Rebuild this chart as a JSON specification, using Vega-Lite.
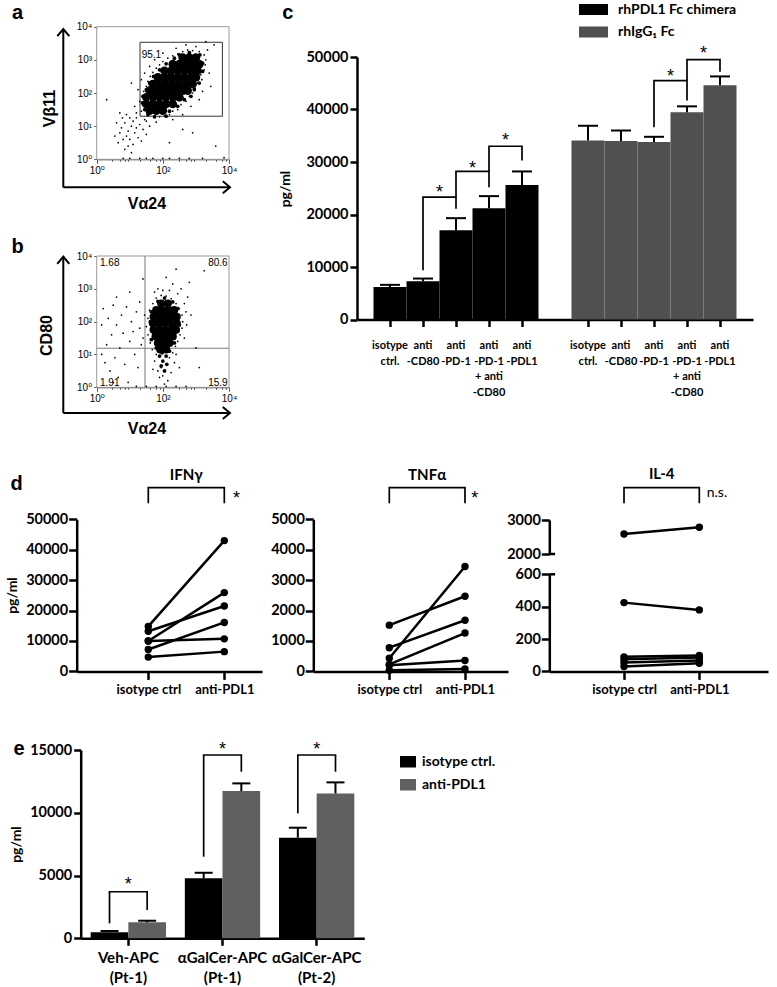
{
"$schema": "https://vega.github.io/schema/vega-lite/v6.json",
"width": 777, "height": 987,
"autosize": {"type": "none"},
"padding": 0,
"background": "white",
"config": {
  "view": {"stroke": null},
  "font": "Lato",
  "axis": {"grid": false, "domainColor": "black", "tickColor": "black", "domainWidth": 2.5, "tickWidth": 2.5, "tickSize": 7,
    "labelFont": "Lato", "labelFontWeight": "bold", "labelColor": "black", "labelFontSize": 14.5, "labelPadding": 2,
    "titleFont": "Lato", "titleFontWeight": "bold", "titleColor": "black", "titleFontSize": 15,
    "labelFlush": false, "labelOverlap": false},
  "legend": {"padding": 0, "labelFont": "Lato", "labelFontWeight": "bold", "labelColor": "black"}
},
"datasets": {
  "a_frame": [{"x1":0,"x2":4,"y1":0,"y2":4}],
  "a_gate": [{"x1":1.31,"x2":3.8,"y1":1.3,"y2":3.53}],
  "a_core": [
    {"lx":1.6,"ly":1.47},{"lx":1.8,"ly":1.47},{"lx":2.0,"ly":1.47},
    {"lx":1.5,"ly":1.67},{"lx":1.7,"ly":1.67},{"lx":1.9,"ly":1.67},{"lx":2.1,"ly":1.67},{"lx":2.3,"ly":1.67},
    {"lx":1.5,"ly":1.87},{"lx":1.7,"ly":1.87},{"lx":1.9,"ly":1.87},{"lx":2.1,"ly":1.87},{"lx":2.3,"ly":1.87},{"lx":2.5,"ly":1.87},
    {"lx":1.6,"ly":2.07},{"lx":1.8,"ly":2.07},{"lx":2.0,"ly":2.07},{"lx":2.2,"ly":2.07},{"lx":2.4,"ly":2.07},{"lx":2.6,"ly":2.07},{"lx":2.75,"ly":2.07},
    {"lx":1.7,"ly":2.27},{"lx":1.9,"ly":2.27},{"lx":2.1,"ly":2.27},{"lx":2.3,"ly":2.27},{"lx":2.5,"ly":2.27},{"lx":2.7,"ly":2.27},{"lx":2.9,"ly":2.27},
    {"lx":1.85,"ly":2.47},{"lx":2.05,"ly":2.47},{"lx":2.25,"ly":2.47},{"lx":2.45,"ly":2.47},{"lx":2.65,"ly":2.47},{"lx":2.85,"ly":2.47},{"lx":3.0,"ly":2.47},
    {"lx":2.05,"ly":2.67},{"lx":2.25,"ly":2.67},{"lx":2.45,"ly":2.67},{"lx":2.65,"ly":2.67},{"lx":2.85,"ly":2.67},{"lx":3.05,"ly":2.67},
    {"lx":2.3,"ly":2.87},{"lx":2.5,"ly":2.87},{"lx":2.7,"ly":2.87},{"lx":2.9,"ly":2.87},{"lx":3.1,"ly":2.87},
    {"lx":2.6,"ly":3.07},{"lx":2.8,"ly":3.07},{"lx":3.0,"ly":3.07}
  ],
  "a_mid": [
    {"lx":1.45,"ly":1.5},{"lx":1.38,"ly":1.7},{"lx":1.4,"ly":1.9},{"lx":1.5,"ly":2.1},{"lx":1.6,"ly":2.3},{"lx":1.72,"ly":2.5},
    {"lx":1.9,"ly":2.7},{"lx":2.1,"ly":2.88},{"lx":2.35,"ly":3.05},{"lx":2.5,"ly":3.15},{"lx":2.8,"ly":3.22},{"lx":3.12,"ly":3.15},
    {"lx":3.2,"ly":2.9},{"lx":3.2,"ly":2.65},{"lx":3.1,"ly":2.3},{"lx":2.95,"ly":2.1},{"lx":2.85,"ly":1.9},{"lx":2.65,"ly":1.8},
    {"lx":2.45,"ly":1.6},{"lx":2.2,"ly":1.45},{"lx":2.1,"ly":1.3},{"lx":1.75,"ly":1.28},{"lx":1.55,"ly":1.35}
  ],
  "a_dots": [
    {"lx":1.35,"ly":1.45},{"lx":1.4,"ly":1.62},{"lx":1.3,"ly":1.75},{"lx":1.38,"ly":1.9},{"lx":1.42,"ly":2.05},{"lx":1.5,"ly":2.2},
    {"lx":1.55,"ly":2.35},{"lx":1.62,"ly":2.5},{"lx":1.7,"ly":2.62},{"lx":1.8,"ly":2.75},{"lx":1.9,"ly":2.85},{"lx":2.0,"ly":2.95},
    {"lx":2.15,"ly":3.05},{"lx":2.3,"ly":3.12},{"lx":2.45,"ly":3.18},{"lx":2.6,"ly":3.25},{"lx":2.75,"ly":3.3},{"lx":2.9,"ly":3.28},
    {"lx":3.1,"ly":3.25},{"lx":3.25,"ly":3.15},{"lx":3.3,"ly":3.0},{"lx":3.28,"ly":2.85},{"lx":3.25,"ly":2.7},{"lx":3.15,"ly":2.55},
    {"lx":3.18,"ly":2.4},{"lx":3.05,"ly":2.3},{"lx":2.98,"ly":2.15},{"lx":2.9,"ly":2.0},{"lx":2.8,"ly":1.9},{"lx":2.7,"ly":1.75},
    {"lx":2.55,"ly":1.65},{"lx":2.45,"ly":1.5},{"lx":2.3,"ly":1.45},{"lx":2.2,"ly":1.35},{"lx":2.05,"ly":1.3},{"lx":1.9,"ly":1.28},
    {"lx":1.75,"ly":1.3},{"lx":1.55,"ly":1.32},{"lx":1.25,"ly":2.1},{"lx":1.35,"ly":2.4},{"lx":1.45,"ly":2.6},{"lx":1.6,"ly":2.8},
    {"lx":1.75,"ly":3.0},{"lx":2.0,"ly":3.2},{"lx":2.4,"ly":3.35},{"lx":2.7,"ly":3.45},{"lx":3.0,"ly":3.4},{"lx":3.35,"ly":3.3},
    {"lx":3.4,"ly":2.6},{"lx":3.45,"ly":2.2},{"lx":3.2,"ly":2.05},{"lx":3.1,"ly":1.8},{"lx":2.85,"ly":1.6},{"lx":2.6,"ly":1.35},
    {"lx":2.3,"ly":1.2},{"lx":1.8,"ly":1.12},{"lx":1.5,"ly":1.15},{"lx":1.2,"ly":1.25},{"lx":3.55,"ly":3.45},{"lx":3.3,"ly":3.55},
    {"lx":1.15,"ly":1.6},{"lx":1.05,"ly":2.3},
    {"lx":0.75,"ly":0.95},{"lx":0.85,"ly":1.1},{"lx":0.95,"ly":0.85},{"lx":1.05,"ly":1.0},{"lx":1.1,"ly":1.15},{"lx":1.0,"ly":1.25},
    {"lx":0.9,"ly":0.7},{"lx":1.15,"ly":0.8},{"lx":1.2,"ly":0.95},{"lx":0.8,"ly":0.6},{"lx":0.7,"ly":0.8},{"lx":1.3,"ly":1.05},
    {"lx":1.25,"ly":0.65},{"lx":1.1,"ly":0.45},{"lx":0.95,"ly":0.4},{"lx":0.85,"ly":0.3},{"lx":0.65,"ly":0.5},{"lx":1.4,"ly":0.9},
    {"lx":1.45,"ly":1.2},{"lx":0.6,"ly":1.1},{"lx":0.9,"ly":1.35},{"lx":1.2,"ly":1.4},{"lx":1.0,"ly":0.6},{"lx":0.78,"ly":1.25},
    {"lx":1.35,"ly":0.55},{"lx":1.5,"ly":0.75},{"lx":0.55,"ly":0.7},{"lx":1.05,"ly":0.2},{"lx":0.7,"ly":1.4},{"lx":1.6,"ly":1.0},
    {"lx":0.8,"ly":0.03},{"lx":1.0,"ly":0.03},{"lx":1.3,"ly":0.03},{"lx":1.5,"ly":0.03},{"lx":1.7,"ly":0.03},{"lx":2.0,"ly":0.03},
    {"lx":2.2,"ly":0.03},{"lx":2.5,"ly":0.03},{"lx":2.8,"ly":0.03},{"lx":3.2,"ly":0.03},
    {"lx":2.9,"ly":0.8},{"lx":2.2,"ly":0.5},{"lx":3.6,"ly":0.4},{"lx":0.3,"ly":1.8},{"lx":3.85,"ly":0.05},{"lx":2.6,"ly":0.9}
  ],
  "a_text": [{"lx":1.36,"ly":3.15,"t":"95.1"}],
  "a_arrows": [{"x1":-1.01,"x2":-1.01,"y1":-0.845,"y2":3.93},{"x1":-1.01,"x2":4.03,"y1":-0.845,"y2":-0.845}],
  "a_up": [{"lx":-1.01,"ly":3.93}],
  "a_right": [{"lx":4.03,"ly":-0.845}],
  "a_letters": [{"lx":-2.39,"ly":4.23,"t":"a"},{"lx":5.78,"ly":4.23,"t":"c"}],

  "b_frame": [{"x1":0,"x2":4,"y1":0,"y2":4}],
  "b_quad": [{"x1":1.46,"x2":1.46,"y1":0,"y2":4},{"x1":0,"x2":4,"y1":1.19,"y2":1.19}],
  "b_core": [
    {"lx":1.95,"ly":2.55},{"lx":2.15,"ly":2.55},
    {"lx":1.8,"ly":2.35},{"lx":1.98,"ly":2.35},{"lx":2.16,"ly":2.35},{"lx":2.34,"ly":2.35},
    {"lx":1.72,"ly":2.15},{"lx":1.9,"ly":2.15},{"lx":2.08,"ly":2.15},{"lx":2.26,"ly":2.15},{"lx":2.42,"ly":2.15},
    {"lx":1.7,"ly":1.95},{"lx":1.88,"ly":1.95},{"lx":2.06,"ly":1.95},{"lx":2.24,"ly":1.95},{"lx":2.42,"ly":1.95},
    {"lx":1.72,"ly":1.75},{"lx":1.9,"ly":1.75},{"lx":2.08,"ly":1.75},{"lx":2.26,"ly":1.75},{"lx":2.4,"ly":1.75},
    {"lx":1.78,"ly":1.55},{"lx":1.96,"ly":1.55},{"lx":2.14,"ly":1.55},{"lx":2.3,"ly":1.55},
    {"lx":1.85,"ly":1.35},{"lx":2.03,"ly":1.35},{"lx":2.2,"ly":1.35},
    {"lx":1.92,"ly":1.15},{"lx":2.1,"ly":1.15}
  ],
  "b_mid": [
    {"lx":1.9,"ly":0.95},{"lx":2.1,"ly":0.95},{"lx":2.0,"ly":0.8},{"lx":1.95,"ly":0.65},{"lx":2.12,"ly":0.7},{"lx":2.05,"ly":0.5},
    {"lx":1.98,"ly":1.05},{"lx":2.2,"ly":1.1},{"lx":1.8,"ly":1.2},{"lx":2.35,"ly":1.35},{"lx":1.65,"ly":1.45},{"lx":2.5,"ly":1.9},
    {"lx":1.62,"ly":2.0},{"lx":2.45,"ly":2.4},{"lx":1.65,"ly":2.3},{"lx":2.05,"ly":2.72},{"lx":1.85,"ly":2.62},{"lx":2.3,"ly":2.6}
  ],
  "b_dots": [
    {"lx":1.55,"ly":1.6},{"lx":1.5,"ly":1.85},{"lx":1.55,"ly":2.1},{"lx":1.6,"ly":2.35},{"lx":1.7,"ly":2.55},{"lx":1.8,"ly":2.72},
    {"lx":1.95,"ly":2.8},{"lx":2.1,"ly":2.78},{"lx":2.25,"ly":2.7},{"lx":2.4,"ly":2.55},{"lx":2.5,"ly":2.4},{"lx":2.58,"ly":2.2},
    {"lx":2.6,"ly":2.0},{"lx":2.58,"ly":1.8},{"lx":2.52,"ly":1.6},{"lx":2.45,"ly":1.4},{"lx":2.38,"ly":1.25},{"lx":1.62,"ly":1.35},
    {"lx":1.68,"ly":1.15},{"lx":2.65,"ly":2.55},{"lx":2.7,"ly":2.3},{"lx":2.72,"ly":1.9},{"lx":1.45,"ly":2.2},{"lx":1.4,"ly":1.5},
    {"lx":2.0,"ly":2.95},{"lx":2.2,"ly":2.95},{"lx":1.85,"ly":3.0},{"lx":2.45,"ly":2.85},{"lx":2.3,"ly":3.15},{"lx":2.55,"ly":3.0},
    {"lx":2.75,"ly":2.75},{"lx":1.75,"ly":2.9},{"lx":2.1,"ly":3.35},{"lx":2.65,"ly":1.5},{"lx":2.85,"ly":2.2},{"lx":3.0,"ly":1.2},
    {"lx":3.25,"ly":3.55},{"lx":2.4,"ly":3.6},
    {"lx":1.8,"ly":1.0},{"lx":2.3,"ly":1.05},{"lx":1.75,"ly":0.8},{"lx":2.35,"ly":0.75},{"lx":1.85,"ly":0.5},{"lx":2.25,"ly":0.45},
    {"lx":1.9,"ly":0.3},{"lx":2.15,"ly":0.2},{"lx":2.05,"ly":0.1},{"lx":1.95,"ly":0.6},{"lx":2.2,"ly":0.9},{"lx":2.4,"ly":1.0},
    {"lx":1.7,"ly":0.55},{"lx":2.5,"ly":0.6},{"lx":2.0,"ly":0.35},
    {"lx":0.2,"ly":2.4},{"lx":0.35,"ly":2.1},{"lx":0.5,"ly":2.5},{"lx":0.6,"ly":1.9},{"lx":0.75,"ly":2.2},{"lx":0.9,"ly":2.45},
    {"lx":1.05,"ly":2.0},{"lx":1.2,"ly":2.3},{"lx":1.3,"ly":1.8},{"lx":0.45,"ly":1.6},{"lx":0.3,"ly":1.3},{"lx":0.15,"ly":1.0},
    {"lx":0.55,"ly":0.9},{"lx":0.7,"ly":1.2},{"lx":0.85,"ly":0.7},{"lx":1.0,"ly":1.4},{"lx":1.15,"ly":1.0},{"lx":1.25,"ly":0.6},
    {"lx":0.4,"ly":0.5},{"lx":0.65,"ly":0.3},{"lx":0.95,"ly":0.15},{"lx":1.35,"ly":1.3},{"lx":0.25,"ly":0.75},{"lx":0.8,"ly":1.65},
    {"lx":1.1,"ly":1.7},{"lx":0.6,"ly":2.75},{"lx":1.0,"ly":2.9},{"lx":1.4,"ly":3.3},{"lx":1.3,"ly":2.6},{"lx":0.15,"ly":1.9},
    {"lx":0.5,"ly":0.15},
    {"lx":1.2,"ly":0.03},{"lx":1.5,"ly":0.03},{"lx":1.8,"ly":0.03},{"lx":2.1,"ly":0.03},{"lx":2.4,"ly":0.03},{"lx":2.7,"ly":0.03},
    {"lx":3.1,"ly":0.6},{"lx":2.8,"ly":3.2}
  ],
  "b_textl": [{"lx":0.1,"ly":3.8,"t":"1.68"},{"lx":0.1,"ly":0.14,"t":"1.91"}],
  "b_textr": [{"lx":3.96,"ly":3.8,"t":"80.6"},{"lx":3.96,"ly":0.14,"t":"15.9"}],
  "b_arrows": [{"x1":-1.01,"x2":-1.01,"y1":-0.78,"y2":3.98},{"x1":-1.01,"x2":4.03,"y1":-0.78,"y2":-0.78}],
  "b_up": [{"lx":-1.01,"ly":3.98}],
  "b_right": [{"lx":4.03,"ly":-0.78}],
  "b_letters": [{"lx":-2.39,"ly":4.08,"t":"b"}],

  "c_bars": [
    {"k":"b1","grp":"rhPDL1 Fc chimera","v":6200,"e":6600},
    {"k":"b2","grp":"rhPDL1 Fc chimera","v":7300,"e":7800},
    {"k":"b3","grp":"rhPDL1 Fc chimera","v":17000,"e":19300},
    {"k":"b4","grp":"rhPDL1 Fc chimera","v":21200,"e":23500},
    {"k":"b5","grp":"rhPDL1 Fc chimera","v":25600,"e":28200},
    {"k":"g1","grp":"rhIgG₁ Fc","v":34100,"e":36900},
    {"k":"g2","grp":"rhIgG₁ Fc","v":34000,"e":36000},
    {"k":"g3","grp":"rhIgG₁ Fc","v":33800,"e":34800},
    {"k":"g4","grp":"rhIgG₁ Fc","v":39500,"e":40600},
    {"k":"g5","grp":"rhIgG₁ Fc","v":44600,"e":46300}
  ],
  "c_br": [
    {"br":1,"k":"b2","v":9400,"o":1},{"br":1,"k":"b2","v":23300,"o":2},{"br":1,"k":"b3","v":23300,"o":3},{"br":1,"k":"b3","v":21100,"o":4},
    {"br":2,"k":"b3","v":23300,"o":1},{"br":2,"k":"b3","v":28200,"o":2},{"br":2,"k":"b4","v":28200,"o":3},{"br":2,"k":"b4","v":25200,"o":4},
    {"br":3,"k":"b4","v":28200,"o":1},{"br":3,"k":"b4","v":33000,"o":2},{"br":3,"k":"b5","v":33000,"o":3},{"br":3,"k":"b5","v":30300,"o":4},
    {"br":4,"k":"g3","v":36600,"o":1},{"br":4,"k":"g3","v":45500,"o":2},{"br":4,"k":"g4","v":45500,"o":3},{"br":4,"k":"g4","v":41700,"o":4},
    {"br":5,"k":"g4","v":45500,"o":1},{"br":5,"k":"g4","v":49500,"o":2},{"br":5,"k":"g5","v":49500,"o":3},{"br":5,"k":"g5","v":47200,"o":4}
  ],
  "c_star": [{"k":"b2","v":23230},{"k":"b3","v":27680},{"k":"b4","v":33060},{"k":"g3","v":45230},{"k":"g4","v":49540}],

  "ifn": [
    {"id":1,"c":1,"v":14800},{"id":1,"c":2,"v":43000},
    {"id":2,"c":1,"v":13200},{"id":2,"c":2,"v":21500},
    {"id":3,"c":1,"v":10000},{"id":3,"c":2,"v":25900},
    {"id":4,"c":1,"v":10000},{"id":4,"c":2,"v":10700},
    {"id":5,"c":1,"v":7200},{"id":5,"c":2,"v":16100},
    {"id":6,"c":1,"v":4700},{"id":6,"c":2,"v":6500}
  ],
  "ifn_br": [{"c":1,"v":55260,"o":1},{"c":1,"v":60390,"o":2},{"c":2,"v":60390,"o":3},{"c":2,"v":55260,"o":4}],
  "ifn_txt": [{"c":1.5,"v":64560,"t":"IFNγ"}],
  "ifn_star": [{"c":2.16,"v":55130}],
  "d_letters": [{"c":-0.732,"v":59630,"t":"d"},{"c":-0.701,"v":-27480,"t":"e"}],

  "tnf": [
    {"id":1,"c":1,"v":1520},{"id":1,"c":2,"v":2470},
    {"id":2,"c":1,"v":430},{"id":2,"c":2,"v":3450},
    {"id":3,"c":1,"v":780},{"id":3,"c":2,"v":1680},
    {"id":4,"c":1,"v":230},{"id":4,"c":2,"v":1260},
    {"id":5,"c":1,"v":200},{"id":5,"c":2,"v":360},
    {"id":6,"c":1,"v":40},{"id":6,"c":2,"v":80}
  ],
  "tnf_br": [{"c":1,"v":5526,"o":1},{"c":1,"v":6039,"o":2},{"c":2,"v":6039,"o":3},{"c":2,"v":5526,"o":4}],
  "tnf_txt": [{"c":1.5,"v":6456,"t":"TNFα"}],
  "tnf_star": [{"c":2.13,"v":5513}],

  "il4_hi": [{"id":1,"c":1,"v":2590},{"id":1,"c":2,"v":2785}],
  "il4_lo": [
    {"id":2,"c":1,"v":425},{"id":2,"c":2,"v":380},
    {"id":3,"c":1,"v":90},{"id":3,"c":2,"v":98},
    {"id":4,"c":1,"v":75},{"id":4,"c":2,"v":86},
    {"id":5,"c":1,"v":55},{"id":5,"c":2,"v":68},
    {"id":6,"c":1,"v":30},{"id":6,"c":2,"v":50}
  ],
  "il4_brk_lo": [{"c1":0.008,"c2":0.085,"v":600}],
  "il4_brk_hi": [{"c1":0.008,"c2":0.085,"v":2000}],
  "il4_br": [{"c":1,"v":3491,"o":1},{"c":1,"v":3950,"o":2},{"c":2,"v":3950,"o":3},{"c":2,"v":3491,"o":4}],
  "il4_txt": [{"c":1.5,"v":4344,"t":"IL-4"}],
  "il4_ns": [{"c":2.098,"v":3785,"t":"n.s."}],

  "e_bars": [
    {"g":"Veh-APC|(Pt-1)","t":"isotype ctrl.","v":480,"e":580},
    {"g":"Veh-APC|(Pt-1)","t":"anti-PDL1","v":1270,"e":1400},
    {"g":"αGalCer-APC|(Pt-1)","t":"isotype ctrl.","v":4780,"e":5220},
    {"g":"αGalCer-APC|(Pt-1)","t":"anti-PDL1","v":11730,"e":12340},
    {"g":"αGalCer-APC|(Pt-2)","t":"isotype ctrl.","v":8010,"e":8810},
    {"g":"αGalCer-APC|(Pt-2)","t":"anti-PDL1","v":11540,"e":12420}
  ],
  "e_brh": [{"g":"Veh-APC|(Pt-1)","v":3710},{"g":"αGalCer-APC|(Pt-1)","v":14600},{"g":"αGalCer-APC|(Pt-2)","v":14600}],
  "e_leg": [
    {"g":"Veh-APC|(Pt-1)","t":"isotype ctrl.","v":1190,"v2":3710},
    {"g":"Veh-APC|(Pt-1)","t":"anti-PDL1","v":2250,"v2":3710},
    {"g":"αGalCer-APC|(Pt-1)","t":"isotype ctrl.","v":6500,"v2":14600},
    {"g":"αGalCer-APC|(Pt-1)","t":"anti-PDL1","v":13270,"v2":14600},
    {"g":"αGalCer-APC|(Pt-2)","t":"isotype ctrl.","v":9950,"v2":14600},
    {"g":"αGalCer-APC|(Pt-2)","t":"anti-PDL1","v":13270,"v2":14600}
  ],
  "e_star": [{"g":"Veh-APC|(Pt-1)","v":3814},{"g":"αGalCer-APC|(Pt-1)","v":14562},{"g":"αGalCer-APC|(Pt-2)","v":14562}]
},
"layer": [
  {
    "layer": [
      {"data": {"name": "a_frame"}, "mark": {"type": "rect", "fillOpacity": 0, "stroke": "#9a9a9a", "strokeWidth": 1},
       "encoding": {
         "x": {"field": "x1", "type": "quantitative", "scale": {"domain": [0, 4], "range": [96.7, 229], "nice": false, "zero": false},
           "axis": {"orient": "bottom", "offset": -827.7,
             "values": [0,0.301,0.477,0.602,0.699,0.778,0.845,0.903,0.954,1,1.301,1.477,1.602,1.699,1.778,1.845,1.903,1.954,2,2.301,2.477,2.602,2.699,2.778,2.845,2.903,2.954,3,3.301,3.477,3.602,3.699,3.778,3.845,3.903,3.954,4],
             "labelExpr": "datum.value==0?'10⁰':datum.value==1?'10¹':datum.value==2?'10²':datum.value==3?'10³':datum.value==4?'10⁴':''",
             "tickSize": {"condition": {"test": "datum.value % 1 === 0", "value": 4}, "value": 2},
             "tickWidth": 0.8, "tickColor": "#333", "domainWidth": 1, "domainColor": "#444",
             "labelFont": "Liberation Sans, DejaVu Sans", "labelFontWeight": "normal", "labelFontSize": 10, "labelPadding": 2,
             "title": "Vα24", "titleFont": "Liberation Sans", "titleFontSize": 16, "titleFontWeight": "bold",
             "titleX": 146.5, "titleY": 43.7, "titleAlign": "center", "titleBaseline": "middle"}},
         "x2": {"field": "x2"},
         "y": {"field": "y1", "type": "quantitative", "scale": {"domain": [0, 4], "range": [159.3, 26.7], "nice": false, "zero": false},
           "axis": {"orient": "left", "offset": -96.7, "values": [0,1,2,3,4],
             "labelExpr": "datum.value==0?'10⁰':datum.value==1?'10¹':datum.value==2?'10²':datum.value==3?'10³':'10⁴'",
             "tickSize": 3, "tickWidth": 0.8, "tickColor": "#333", "domain": false,
             "labelFont": "Liberation Sans, DejaVu Sans", "labelFontWeight": "normal", "labelFontSize": 10, "labelPadding": 2,
             "title": "Vβ11", "titleFont": "Liberation Sans", "titleFontSize": 16, "titleFontWeight": "bold",
             "titleX": -46.7, "titleY": 108, "titleAngle": 270, "titleAlign": "center", "titleBaseline": "middle"}},
         "y2": {"field": "y2"}}},
      {"data": {"name": "a_gate"}, "mark": {"type": "rect", "fillOpacity": 0, "stroke": "#333", "strokeWidth": 1},
       "encoding": {"x": {"field": "x1", "type": "quantitative"}, "x2": {"field": "x2"}, "y": {"field": "y1", "type": "quantitative"}, "y2": {"field": "y2"}}},
      {"data": {"name": "a_core"}, "mark": {"type": "circle", "color": "black", "size": 75, "opacity": 1},
       "encoding": {"x": {"field": "lx", "type": "quantitative"}, "y": {"field": "ly", "type": "quantitative"}}},
      {"data": {"name": "a_mid"}, "mark": {"type": "circle", "color": "black", "size": 14, "opacity": 1},
       "encoding": {"x": {"field": "lx", "type": "quantitative"}, "y": {"field": "ly", "type": "quantitative"}}},
      {"data": {"name": "a_dots"}, "mark": {"type": "circle", "color": "black", "size": 3, "opacity": 1},
       "encoding": {"x": {"field": "lx", "type": "quantitative"}, "y": {"field": "ly", "type": "quantitative"}}},
      {"data": {"name": "a_text"}, "mark": {"type": "text", "font": "Liberation Sans", "fontSize": 10, "align": "left", "baseline": "middle", "color": "black"},
       "encoding": {"x": {"field": "lx", "type": "quantitative"}, "y": {"field": "ly", "type": "quantitative"}, "text": {"field": "t"}}},
      {"data": {"name": "a_arrows"}, "mark": {"type": "rule", "color": "black", "strokeWidth": 2},
       "encoding": {"x": {"field": "x1", "type": "quantitative"}, "x2": {"field": "x2"}, "y": {"field": "y1", "type": "quantitative"}, "y2": {"field": "y2"}}},
      {"data": {"name": "a_up"}, "mark": {"type": "point", "shape": "M-1,1.2L0,0L1,1.2", "size": 144, "filled": false, "stroke": "black", "strokeWidth": 2, "opacity": 1},
       "encoding": {"x": {"field": "lx", "type": "quantitative"}, "y": {"field": "ly", "type": "quantitative"}}},
      {"data": {"name": "a_right"}, "mark": {"type": "point", "shape": "M-1.2,-1L0,0L-1.2,1", "size": 144, "filled": false, "stroke": "black", "strokeWidth": 2, "opacity": 1},
       "encoding": {"x": {"field": "lx", "type": "quantitative"}, "y": {"field": "ly", "type": "quantitative"}}},
      {"data": {"name": "a_letters"}, "mark": {"type": "text", "font": "Liberation Sans", "fontSize": 20, "fontWeight": "bold", "align": "center", "baseline": "alphabetic", "color": "black"},
       "encoding": {"x": {"field": "lx", "type": "quantitative"}, "y": {"field": "ly", "type": "quantitative"}, "text": {"field": "t"}}}
    ]
  },
  {
    "layer": [
      {"data": {"name": "b_frame"}, "mark": {"type": "rect", "fillOpacity": 0, "stroke": "#9a9a9a", "strokeWidth": 1},
       "encoding": {
         "x": {"field": "x1", "type": "quantitative", "scale": {"domain": [0, 4], "range": [96.7, 229], "nice": false, "zero": false},
           "axis": {"orient": "bottom", "offset": -599.7,
             "values": [0,0.301,0.477,0.602,0.699,0.778,0.845,0.903,0.954,1,1.301,1.477,1.602,1.699,1.778,1.845,1.903,1.954,2,2.301,2.477,2.602,2.699,2.778,2.845,2.903,2.954,3,3.301,3.477,3.602,3.699,3.778,3.845,3.903,3.954,4],
             "labelExpr": "datum.value==0?'10⁰':datum.value==1?'10¹':datum.value==2?'10²':datum.value==3?'10³':datum.value==4?'10⁴':''",
             "tickSize": {"condition": {"test": "datum.value % 1 === 0", "value": 4}, "value": 2},
             "tickWidth": 0.8, "tickColor": "#333", "domainWidth": 1, "domainColor": "#444",
             "labelFont": "Liberation Sans, DejaVu Sans", "labelFontWeight": "normal", "labelFontSize": 10, "labelPadding": 2,
             "title": "Vα24", "titleFont": "Liberation Sans", "titleFontSize": 16, "titleFontWeight": "bold",
             "titleX": 146.5, "titleY": 41.4, "titleAlign": "center", "titleBaseline": "middle"}},
         "x2": {"field": "x2"},
         "y": {"field": "y1", "type": "quantitative", "scale": {"domain": [0, 4], "range": [387.3, 256], "nice": false, "zero": false},
           "axis": {"orient": "left", "offset": -96.7, "values": [0,1,2,3,4],
             "labelExpr": "datum.value==0?'10⁰':datum.value==1?'10¹':datum.value==2?'10²':datum.value==3?'10³':'10⁴'",
             "tickSize": 3, "tickWidth": 0.8, "tickColor": "#333", "domain": false,
             "labelFont": "Liberation Sans, DejaVu Sans", "labelFontWeight": "normal", "labelFontSize": 10, "labelPadding": 2,
             "title": "CD80", "titleFont": "Liberation Sans", "titleFontSize": 16, "titleFontWeight": "bold",
             "titleX": -50, "titleY": 335, "titleAngle": 270, "titleAlign": "center", "titleBaseline": "middle"}},
         "y2": {"field": "y2"}}},
      {"data": {"name": "b_quad"}, "mark": {"type": "rule", "color": "#7a7a7a", "strokeWidth": 1},
       "encoding": {"x": {"field": "x1", "type": "quantitative"}, "x2": {"field": "x2"}, "y": {"field": "y1", "type": "quantitative"}, "y2": {"field": "y2"}}},
      {"data": {"name": "b_core"}, "mark": {"type": "circle", "color": "black", "size": 66, "opacity": 1},
       "encoding": {"x": {"field": "lx", "type": "quantitative"}, "y": {"field": "ly", "type": "quantitative"}}},
      {"data": {"name": "b_mid"}, "mark": {"type": "circle", "color": "black", "size": 14, "opacity": 1},
       "encoding": {"x": {"field": "lx", "type": "quantitative"}, "y": {"field": "ly", "type": "quantitative"}}},
      {"data": {"name": "b_dots"}, "mark": {"type": "circle", "color": "black", "size": 3, "opacity": 1},
       "encoding": {"x": {"field": "lx", "type": "quantitative"}, "y": {"field": "ly", "type": "quantitative"}}},
      {"data": {"name": "b_textl"}, "mark": {"type": "text", "font": "Liberation Sans", "fontSize": 10, "align": "left", "baseline": "middle", "color": "black"},
       "encoding": {"x": {"field": "lx", "type": "quantitative"}, "y": {"field": "ly", "type": "quantitative"}, "text": {"field": "t"}}},
      {"data": {"name": "b_textr"}, "mark": {"type": "text", "font": "Liberation Sans", "fontSize": 10, "align": "right", "baseline": "middle", "color": "black"},
       "encoding": {"x": {"field": "lx", "type": "quantitative"}, "y": {"field": "ly", "type": "quantitative"}, "text": {"field": "t"}}},
      {"data": {"name": "b_arrows"}, "mark": {"type": "rule", "color": "black", "strokeWidth": 2},
       "encoding": {"x": {"field": "x1", "type": "quantitative"}, "x2": {"field": "x2"}, "y": {"field": "y1", "type": "quantitative"}, "y2": {"field": "y2"}}},
      {"data": {"name": "b_up"}, "mark": {"type": "point", "shape": "M-1,1.2L0,0L1,1.2", "size": 144, "filled": false, "stroke": "black", "strokeWidth": 2, "opacity": 1},
       "encoding": {"x": {"field": "lx", "type": "quantitative"}, "y": {"field": "ly", "type": "quantitative"}}},
      {"data": {"name": "b_right"}, "mark": {"type": "point", "shape": "M-1.2,-1L0,0L-1.2,1", "size": 144, "filled": false, "stroke": "black", "strokeWidth": 2, "opacity": 1},
       "encoding": {"x": {"field": "lx", "type": "quantitative"}, "y": {"field": "ly", "type": "quantitative"}}},
      {"data": {"name": "b_letters"}, "mark": {"type": "text", "font": "Liberation Sans", "fontSize": 20, "fontWeight": "bold", "align": "center", "baseline": "alphabetic", "color": "black"},
       "encoding": {"x": {"field": "lx", "type": "quantitative"}, "y": {"field": "ly", "type": "quantitative"}, "text": {"field": "t"}}}
    ]
  },
  {
    "layer": [
      {"data": {"name": "c_bars"}, "mark": {"type": "bar"},
       "encoding": {
         "x": {"field": "k", "type": "nominal",
           "scale": {"type": "band", "domain": ["b1","b2","b3","b4","b5","gap","g1","g2","g3","g4","g5"], "range": [357, 753], "paddingInner": 0, "paddingOuter": 0.5},
           "axis": {"orient": "bottom", "offset": -667.5, "values": ["b1","b2","b3","b4","b5","g1","g2","g3","g4","g5"],
             "labelExpr": "(datum.value=='b1'||datum.value=='g1')?['isotype','ctrl.']:(datum.value=='b2'||datum.value=='g2')?['anti','-CD80']:(datum.value=='b3'||datum.value=='g3')?['anti','-PD-1']:(datum.value=='b4'||datum.value=='g4')?['anti','-PD-1','+ anti','-CD80']:['anti','-PDL1']",
             "labelAngle": 0, "labelFontSize": 11, "labelLineHeight": 15.6, "labelPadding": 13, "labelBaseline": "top", "labelAlign": "center",
             "tickSize": 7, "title": null}},
         "y": {"field": "v", "type": "quantitative", "scale": {"domain": [0, 50000], "range": [319.5, 57], "nice": false, "zero": true},
           "axis": {"orient": "left", "offset": -357, "values": [0,10000,20000,30000,40000,50000], "format": "d", "tickSize": 7, "labelPadding": 2,
             "title": "pg/ml", "titleFontSize": 14, "titleX": -72, "titleY": 188.5, "titleAngle": 270, "titleAlign": "center", "titleBaseline": "middle"}},
         "color": {"field": "grp", "type": "nominal", "scale": {"domain": ["rhPDL1 Fc chimera", "rhIgG₁ Fc"], "range": ["#000000", "#505050"]},
           "legend": {"orient": "none", "legendX": 579, "legendY": -0.5, "title": null, "symbolType": "M-1,-0.38H1V0.38H-1Z", "symbolSize": 841,
             "symbolStrokeWidth": 0, "symbolOpacity": 1, "labelFontSize": 14, "labelOffset": 10, "clipHeight": 20, "rowPadding": 2.5}}
       }},
      {"data": {"name": "c_bars"}, "mark": {"type": "rule", "color": "black", "strokeWidth": 2},
       "encoding": {"x": {"field": "k", "type": "nominal"}, "y": {"field": "v", "type": "quantitative"}, "y2": {"field": "e"}}},
      {"data": {"name": "c_bars"}, "mark": {"type": "tick", "color": "black", "thickness": 2, "size": 20, "opacity": 1},
       "encoding": {"x": {"field": "k", "type": "nominal"}, "y": {"field": "e", "type": "quantitative"}}},
      {"data": {"name": "c_br"}, "mark": {"type": "line", "color": "black", "strokeWidth": 1.7},
       "encoding": {"x": {"field": "k", "type": "nominal", "bandPosition": 0.5}, "y": {"field": "v", "type": "quantitative"}, "detail": {"field": "br"}, "order": {"field": "o"}}},
      {"data": {"name": "c_star"}, "mark": {"type": "text", "text": "*", "font": "Liberation Sans", "fontSize": 18, "align": "center", "baseline": "alphabetic", "color": "black"},
       "encoding": {"x": {"field": "k", "type": "nominal", "bandPosition": 1}, "y": {"field": "v", "type": "quantitative"}}}
    ]
  },
  {
    "layer": [
      {"data": {"name": "e_bars"}, "mark": {"type": "bar"},
       "encoding": {
         "x": {"field": "g", "type": "nominal",
           "scale": {"type": "band", "domain": ["Veh-APC|(Pt-1)", "αGalCer-APC|(Pt-1)", "αGalCer-APC|(Pt-2)"], "range": [80.7, 364.3], "paddingInner": 0.2, "paddingOuter": 0.106},
           "axis": {"orient": "bottom", "offset": -48.7, "labelExpr": "split(datum.value,'|')", "labelAngle": 0, "labelFontSize": 15, "labelLineHeight": 20,
             "labelPadding": 5, "labelBaseline": "top", "labelAlign": "center", "tickSize": 7, "title": null}},
         "xOffset": {"field": "t", "type": "nominal", "scale": {"domain": ["isotype ctrl.", "anti-PDL1"], "paddingInner": 0, "paddingOuter": 0}},
         "y": {"field": "v", "type": "quantitative", "scale": {"domain": [0, 15000], "range": [938.3, 750], "nice": false, "zero": true},
           "axis": {"orient": "left", "offset": -80.7, "values": [0,5000,10000,15000], "format": "d", "tickSize": 7, "labelPadding": 2,
             "title": "pg/ml", "titleFontSize": 14, "titleX": -64.7, "titleY": 844, "titleAngle": 270, "titleAlign": "center", "titleBaseline": "middle"}},
         "color": {"field": "t", "type": "nominal", "scale": {"domain": ["isotype ctrl.", "anti-PDL1"], "range": ["#000000", "#606060"]},
           "legend": {"orient": "none", "legendX": 400, "legendY": 751.8, "title": null, "symbolType": "M-1,-0.72H1V0.72H-1Z", "symbolSize": 256,
             "symbolStrokeWidth": 0, "symbolOpacity": 1, "labelFontSize": 14, "labelOffset": 6, "clipHeight": 20, "rowPadding": 3}}
       }},
      {"data": {"name": "e_bars"}, "mark": {"type": "rule", "color": "black", "strokeWidth": 2},
       "encoding": {"x": {"field": "g", "type": "nominal"}, "xOffset": {"field": "t", "type": "nominal"}, "y": {"field": "v", "type": "quantitative"}, "y2": {"field": "e"}}},
      {"data": {"name": "e_bars"}, "mark": {"type": "tick", "color": "black", "thickness": 2, "size": 18, "opacity": 1},
       "encoding": {"x": {"field": "g", "type": "nominal"}, "xOffset": {"field": "t", "type": "nominal"}, "y": {"field": "e", "type": "quantitative"}}},
      {"data": {"name": "e_leg"}, "mark": {"type": "rule", "color": "black", "strokeWidth": 1.7},
       "encoding": {"x": {"field": "g", "type": "nominal"}, "xOffset": {"field": "t", "type": "nominal"}, "y": {"field": "v", "type": "quantitative"}, "y2": {"field": "v2"}}},
      {"data": {"name": "e_brh"}, "mark": {"type": "tick", "color": "black", "thickness": 1.7, "size": 39.2, "opacity": 1},
       "encoding": {"x": {"field": "g", "type": "nominal"}, "y": {"field": "v", "type": "quantitative"}}},
      {"data": {"name": "e_star"}, "mark": {"type": "text", "text": "*", "font": "Liberation Sans", "fontSize": 18, "align": "center", "baseline": "alphabetic", "color": "black"},
       "encoding": {"x": {"field": "g", "type": "nominal"}, "y": {"field": "v", "type": "quantitative"}}}
    ]
  },
  {
    "layer": [
      {"data": {"name": "ifn"}, "mark": {"type": "line", "color": "black", "strokeWidth": 2.5},
       "encoding": {
         "x": {"field": "c", "type": "quantitative", "scale": {"domain": [0.058, 2.496], "range": [76.7, 262], "nice": false, "zero": false},
           "axis": {"orient": "bottom", "offset": -315.6, "values": [1, 2], "labelExpr": "datum.value==1?'isotype ctrl':'anti-PDL1'",
             "labelFontSize": 13, "labelPadding": 4, "tickSize": 8, "title": null}},
         "y": {"field": "v", "type": "quantitative", "scale": {"domain": [0, 50000], "range": [671.4, 519.3], "nice": false, "zero": true},
           "axis": {"orient": "left", "offset": -76.7, "values": [0,10000,20000,30000,40000,50000], "format": "d", "tickSize": 8, "labelPadding": 1,
             "title": "pg/ml", "titleFontSize": 14, "titleX": -64.7, "titleY": 595, "titleAngle": 270, "titleAlign": "center", "titleBaseline": "middle"}},
         "detail": {"field": "id"}, "order": {"field": "c"}}},
      {"data": {"name": "ifn"}, "mark": {"type": "circle", "color": "black", "size": 55, "opacity": 1},
       "encoding": {"x": {"field": "c", "type": "quantitative"}, "y": {"field": "v", "type": "quantitative"}}},
      {"data": {"name": "ifn_br"}, "mark": {"type": "line", "color": "black", "strokeWidth": 1.7},
       "encoding": {"x": {"field": "c", "type": "quantitative"}, "y": {"field": "v", "type": "quantitative"}, "order": {"field": "o"}}},
      {"data": {"name": "ifn_txt"}, "mark": {"type": "text", "font": "Lato", "fontSize": 15, "fontWeight": "bold", "align": "center", "baseline": "middle", "color": "black"},
       "encoding": {"x": {"field": "c", "type": "quantitative"}, "y": {"field": "v", "type": "quantitative"}, "text": {"field": "t"}}},
      {"data": {"name": "ifn_star"}, "mark": {"type": "text", "text": "*", "font": "Liberation Sans", "fontSize": 18, "align": "center", "baseline": "alphabetic", "color": "black"},
       "encoding": {"x": {"field": "c", "type": "quantitative"}, "y": {"field": "v", "type": "quantitative"}}},
      {"data": {"name": "d_letters"}, "mark": {"type": "text", "font": "Liberation Sans", "fontSize": 20, "fontWeight": "bold", "align": "center", "baseline": "alphabetic", "color": "black"},
       "encoding": {"x": {"field": "c", "type": "quantitative"}, "y": {"field": "v", "type": "quantitative"}, "text": {"field": "t"}}}
    ]
  },
  {
    "layer": [
      {"data": {"name": "tnf"}, "mark": {"type": "line", "color": "black", "strokeWidth": 2.5},
       "encoding": {
         "x": {"field": "c", "type": "quantitative", "scale": {"domain": [-0.004, 2.568], "range": [313.3, 508], "nice": false, "zero": false},
           "axis": {"orient": "bottom", "offset": -315.6, "values": [1, 2], "labelExpr": "datum.value==1?'isotype ctrl':'anti-PDL1'",
             "labelFontSize": 13, "labelPadding": 4, "tickSize": 8, "title": null}},
         "y": {"field": "v", "type": "quantitative", "scale": {"domain": [0, 5000], "range": [671.4, 519.3], "nice": false, "zero": true},
           "axis": {"orient": "left", "offset": -313.3, "values": [0,1000,2000,3000,4000,5000], "format": "d", "tickSize": 8, "labelPadding": 1, "title": null}},
         "detail": {"field": "id"}, "order": {"field": "c"}}},
      {"data": {"name": "tnf"}, "mark": {"type": "circle", "color": "black", "size": 55, "opacity": 1},
       "encoding": {"x": {"field": "c", "type": "quantitative"}, "y": {"field": "v", "type": "quantitative"}}},
      {"data": {"name": "tnf_br"}, "mark": {"type": "line", "color": "black", "strokeWidth": 1.7},
       "encoding": {"x": {"field": "c", "type": "quantitative"}, "y": {"field": "v", "type": "quantitative"}, "order": {"field": "o"}}},
      {"data": {"name": "tnf_txt"}, "mark": {"type": "text", "font": "Lato", "fontSize": 15, "fontWeight": "bold", "align": "center", "baseline": "middle", "color": "black"},
       "encoding": {"x": {"field": "c", "type": "quantitative"}, "y": {"field": "v", "type": "quantitative"}, "text": {"field": "t"}}},
      {"data": {"name": "tnf_star"}, "mark": {"type": "text", "text": "*", "font": "Liberation Sans", "fontSize": 18, "align": "center", "baseline": "alphabetic", "color": "black"},
       "encoding": {"x": {"field": "c", "type": "quantitative"}, "y": {"field": "v", "type": "quantitative"}}}
    ]
  },
  {
    "layer": [
      {"data": {"name": "il4_lo"}, "mark": {"type": "line", "color": "black", "strokeWidth": 2.5},
       "encoding": {
         "x": {"field": "c", "type": "quantitative", "scale": {"domain": [0.008, 2.912], "range": [549.3, 768], "nice": false, "zero": false},
           "axis": {"orient": "bottom", "offset": -315.6, "values": [1, 2], "labelExpr": "datum.value==1?'isotype ctrl':'anti-PDL1'",
             "labelFontSize": 13, "labelPadding": 4, "tickSize": 8, "title": null}},
         "y": {"field": "v", "type": "quantitative", "scale": {"domain": [0, 600], "range": [671.4, 574.3], "nice": false, "zero": true},
           "axis": {"orient": "left", "offset": -549.3, "values": [0,200,400,600], "format": "d", "tickSize": 8, "labelPadding": 1, "title": null}},
         "detail": {"field": "id"}, "order": {"field": "c"}}},
      {"data": {"name": "il4_lo"}, "mark": {"type": "circle", "color": "black", "size": 55, "opacity": 1},
       "encoding": {"x": {"field": "c", "type": "quantitative"}, "y": {"field": "v", "type": "quantitative"}}},
      {"data": {"name": "il4_brk_lo"}, "mark": {"type": "rule", "color": "black", "strokeWidth": 2.5},
       "encoding": {"x": {"field": "c1", "type": "quantitative"}, "x2": {"field": "c2"}, "y": {"field": "v", "type": "quantitative"}}}
    ]
  },
  {
    "layer": [
      {"data": {"name": "il4_hi"}, "mark": {"type": "line", "color": "black", "strokeWidth": 2.5},
       "encoding": {
         "x": {"field": "c", "type": "quantitative", "scale": {"domain": [0.008, 2.912], "range": [549.3, 768], "nice": false, "zero": false}, "axis": null},
         "y": {"field": "v", "type": "quantitative", "scale": {"domain": [2000, 3000], "range": [554, 520], "nice": false, "zero": false},
           "axis": {"orient": "left", "offset": -549.3, "values": [2000,3000], "format": "d", "tickSize": 8, "labelPadding": 1, "title": null}},
         "detail": {"field": "id"}, "order": {"field": "c"}}},
      {"data": {"name": "il4_hi"}, "mark": {"type": "circle", "color": "black", "size": 55, "opacity": 1},
       "encoding": {"x": {"field": "c", "type": "quantitative"}, "y": {"field": "v", "type": "quantitative"}}},
      {"data": {"name": "il4_brk_hi"}, "mark": {"type": "rule", "color": "black", "strokeWidth": 2.5},
       "encoding": {"x": {"field": "c1", "type": "quantitative"}, "x2": {"field": "c2"}, "y": {"field": "v", "type": "quantitative"}}},
      {"data": {"name": "il4_br"}, "mark": {"type": "line", "color": "black", "strokeWidth": 1.7},
       "encoding": {"x": {"field": "c", "type": "quantitative"}, "y": {"field": "v", "type": "quantitative"}, "order": {"field": "o"}}},
      {"data": {"name": "il4_txt"}, "mark": {"type": "text", "font": "Lato", "fontSize": 15, "fontWeight": "bold", "align": "center", "baseline": "middle", "color": "black"},
       "encoding": {"x": {"field": "c", "type": "quantitative"}, "y": {"field": "v", "type": "quantitative"}, "text": {"field": "t"}}},
      {"data": {"name": "il4_ns"}, "mark": {"type": "text", "font": "Lato", "fontSize": 14, "align": "left", "baseline": "middle", "color": "black"},
       "encoding": {"x": {"field": "c", "type": "quantitative"}, "y": {"field": "v", "type": "quantitative"}, "text": {"field": "t"}}}
    ]
  }
],
"resolve": {
  "scale": {"x": "independent", "y": "independent", "color": "independent", "xOffset": "independent"},
  "axis": {"x": "independent", "y": "independent"},
  "legend": {"color": "independent"}
}
}
